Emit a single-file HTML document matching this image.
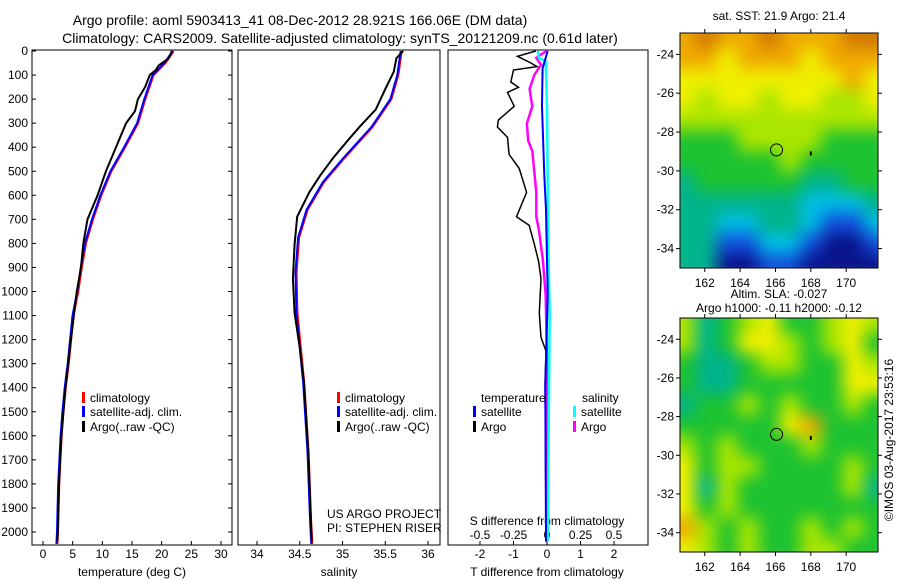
<!DOCTYPE html>
<html><head><meta charset="utf-8">
<style>
html,body{margin:0;padding:0;background:#fff;}
#wrap{position:relative;width:900px;height:580px;overflow:hidden;font-family:"Liberation Sans",sans-serif;}
svg{position:absolute;left:0;top:0;}
canvas{position:absolute;}
</style></head>
<body>
<div id="wrap">
<canvas id="sstmap" width="198" height="235" style="left:680px;top:33px;"></canvas>
<canvas id="slamap" width="198" height="234" style="left:680px;top:318px;"></canvas>
<svg id="fig" width="900" height="580" xmlns="http://www.w3.org/2000/svg" font-family="Liberation Sans, sans-serif"></svg>
</div>
<script>
// ---------- data ----------
const climDepth = [0,50,100,200,300,400,500,600,700,800,900,1000,1100,1200,1300,1400,1500,1600,1700,1800,1900,2000,2050];
const climTemp  = [22,20.6,18.6,17.2,16.0,13.8,11.5,9.8,8.4,7.2,6.5,5.9,5.1,4.7,4.3,3.8,3.4,3.1,2.9,2.7,2.6,2.5,2.4];
const argoDepth = [0,30,60,80,100,150,200,250,300,400,500,600,700,800,900,1000,1200,1400,1600,1800,2000,2040];
const argoTemp  = [21.7,21.2,19.5,19,18,17.2,16,15.5,14,12.3,10.6,9.2,7.5,6.8,6.4,5.7,4.7,3.8,3.1,2.7,2.5,2.4];
const salDepth  = [0,100,200,315,445,545,660,775,920,1090,1235,1380,1665,1955,2050];
const salClim   = [35.69,35.65,35.57,35.35,35.02,34.78,34.59,34.49,34.46,34.47,34.51,34.55,34.60,34.63,34.645];
const salArgoDepth = [0,30,86,158,243,315,373,445,517,588,689,803,947,1090,1235,1380,1665,1955,2040];
const salArgo   = [35.71,35.63,35.6,35.5,35.39,35.2,35.06,34.89,34.74,34.61,34.47,34.44,34.42,34.44,34.5,34.55,34.6,34.63,34.64];
const tdDepth   = [0,22,50,65,79,129,151,172,230,287,316,359,430,488,588,689,725,803,875,947,1090,1191,1248,1377,1521,2009,2040];
const tdArgo    = [-0.33,-0.88,-0.48,-0.3,-1.0,-1.08,-0.85,-1.18,-0.98,-1.45,-1.48,-1.18,-1.13,-0.83,-0.61,-0.91,-0.53,-0.38,-0.25,-0.18,-0.23,-0.18,-0.03,-0.06,-0.05,-0.03,-0.03];
const sdDepth   = [0,14,29,57,100,158,230,301,373,416,588,689,746,875,1018,1300,2040];
const sdArgo    = [0,-0.045,-0.08,-0.045,-0.095,-0.13,-0.11,-0.15,-0.14,-0.11,-0.08,-0.08,-0.06,-0.03,-0.01,0,0];
const tsDepth   = [0,72,230,517,660,1018,1400,2040];
const tdSat     = [0.02,-0.13,-0.15,-0.08,-0.03,0.02,-0.05,-0.03];
const ssDepth   = [0,29,43,230,803,1090,2040];
const sdSat     = [-0.07,-0.06,-0.01,0,0.01,0.02,0.005];
const depthTicks = [0,100,200,300,400,500,600,700,800,900,1000,1100,1200,1300,1400,1500,1600,1700,1800,1900,2000];
const tempTicks = [0,5,10,15,20,25,30];
const salTicks = [34,34.5,35,35.5,36];
const tdTicks = [-2,-1,0,1,2];
const sdTicks = [-0.5,-0.25,0,0.25,0.5];
const lonTicks = [162,164,166,168,170];
const latTicks = [-24,-26,-28,-30,-32,-34];
const sstGrid = [
[7,8,7,7,8,7,7,7,8,8],[7,7,6,7,7,7,6,7,7,7],[6,6,6,6,6,6,6,6,7,6],[6,5,6,6,5,6,6,5,5,6],
[5,5,5,5,5,5,5,5,5,5],[4,4,4,5,5,5,5,4,4,4],[4,4,4,4,4,5,4,4,4,4],[3,4,4,4,4,4,3,3,4,4],
[3,3,3,3,3,3,2,2,2,3],[3,3,2,2,3,3,2,1,1,2],[3,3,1,1,2,2,1,0,0,1],[3,3,0,0,1,1,0,0,0,0]];
const slaGrid = [
[5,3,4,5,6,4,4,5,6,5],[5,3,4,6,6,5,4,5,6,4],[4,3,3,4,5,5,4,4,6,5],[4,3,3,4,4,4,4,4,6,6],
[3,4,4,5,4,5,4,4,5,4],[4,4,4,4,4,6,7,4,4,4],[5,4,5,4,4,4,5,4,4,4],[6,4,5,5,4,4,4,4,5,4],
[6,3,5,4,4,4,4,4,5,3],[6,4,5,4,4,4,4,4,4,4],[7,5,4,5,4,4,5,4,5,4],[6,5,4,5,4,4,5,5,4,4]];
const palette = [[10,20,140],[20,80,220],[0,190,230],[0,180,140],[30,195,50],[170,230,0],[240,240,0],[240,170,0],[210,120,0]];

// ---------- helpers ----------
const NS="http://www.w3.org/2000/svg";
const svg=document.getElementById('fig');
function mk(tag,attrs,parent){const e=document.createElementNS(NS,tag);for(const k in attrs)e.setAttribute(k,attrs[k]);(parent||svg).appendChild(e);return e;}
function txt(x,y,s,anchor,size,parent,rot){const t=mk('text',{x:x,y:y,'font-size':size||12,'text-anchor':anchor||'middle',fill:'#000'},parent);if(rot)t.setAttribute('transform',rot);t.textContent=s;return t;}
const yTop=51, yPer=(532-51)/2000;
function yD(d){return yTop+d*yPer;}
function lin(v0,p0,v1,p1){return v=>p0+(v-v0)*(p1-p0)/(v1-v0);}
const xT=lin(0,43,30,221), xS=lin(34,257,36,428), xTD=lin(0,547,1,580.5), xSD=lin(0,547,0.25,580.5);
function line(xs,ds,xf,color,w,name){
  let d='';for(let i=0;i<xs.length;i++){d+=(i?'L':'M')+xf(xs[i]).toFixed(1)+','+yD(ds[i]).toFixed(1);}
  const p=mk('path',{d:d,fill:'none',stroke:color,'stroke-width':w,'stroke-linejoin':'miter'});
  
  
  return p;
}
function box(x0,x1,name){const r=mk('rect',{x:x0,y:50,width:x1-x0,height:495,fill:'none',stroke:'#000','stroke-width':1});
  }

let t=txt(300,25,'Argo profile: aoml 5903413_41 08-Dec-2012 28.921S 166.06E (DM data)','middle',14);

t=txt(340,43,'Climatology: CARS2009. Satellite-adjusted climatology: synTS_20121209.nc (0.61d later)','middle',14);


box(32,232,'temperature-panel');box(238,440,'salinity-panel');box(448,648,'difference-panel');

for(const d of depthTicks){
  const y=yD(d);
  const l=txt(28,y+4,String(d),'end',12);
  
  mk('line',{x1:32,x2:36,y1:y,y2:y,stroke:'#000'});mk('line',{x1:228,x2:232,y1:y,y2:y,stroke:'#000'});
}
function xticks(ticks,xf,y,tickY){for(const v of ticks){const x=xf(v);
  const l=txt(x,y,String(v),'middle',12);
  if(tickY)mk('line',{x1:x,x2:x,y1:545,y2:541,stroke:'#000'});}}
xticks(tempTicks,xT,558,true);xticks(salTicks,xS,558,true);xticks(tdTicks,xTD,558,true);
xticks(sdTicks,xSD,539,false);
t=txt(132,576,'temperature (deg C)','middle',12);
t=txt(339,576,'salinity','middle',12);
t=txt(547,576,'T difference from climatology','middle',12);
t=txt(547,525,'S difference from climatology','middle',12);

line(climTemp,climDepth,xT,'#f00',2.5,'temp-climatology-line');
line(climTemp,climDepth,v=>xT(v)-0.8,'#00f',2,'temp-satellite-line');
line(argoTemp,argoDepth,xT,'#000',2,'temp-argo-line');
line(salClim,salDepth,xS,'#f00',2.5,'sal-climatology-line');
line(salClim,salDepth,v=>xS(v)-0.8,'#00f',2,'sal-satellite-line');
line(salArgo,salArgoDepth,xS,'#000',2,'sal-argo-line');
line(tdArgo,tdDepth,xTD,'#000',1.5,'tdiff-argo-line');
line(sdArgo,sdDepth,xSD,'#f0f',2.5,'sdiff-argo-line');
line(sdSat,ssDepth,xSD,'#0ff',2.5,'sdiff-satellite-line');
line(tdSat,tsDepth,xTD,'#00f',2,'tdiff-satellite-line');

function leg(x,y,color,label,name){mk('rect',{x:x,y:y-10,width:3,height:11,fill:color});
  const l=txt(x+8,y,label,'start',12);}
leg(82,402,'#f00','climatology','legend-climatology');leg(82,416,'#00f','satellite-adj. clim.','legend-satellite');leg(82,431,'#000','Argo(..raw -QC)','legend-argo');
leg(337,402,'#f00','climatology','legend2-climatology');leg(337,416,'#00f','satellite-adj. clim.','legend2-satellite');leg(337,431,'#000','Argo(..raw -QC)','legend2-argo');
t=txt(481,402,'temperature','start',12);
t=txt(582,402,'salinity','start',12);
leg(473,416,'#00f','satellite','legend-t-satellite');leg(473,431,'#000','Argo','legend-t-argo');
leg(573,416,'#0ff','satellite','legend-s-satellite');leg(573,431,'#f0f','Argo','legend-s-argo');
t=txt(327,518,'US ARGO PROJECT','start',12);
t=txt(327,532,'PI: STEPHEN RISER','start',12);

const lonMin=160.6, lonMax=171.8, latTop=-22.9, latBot=-35.0;
function drawMap(id,grid,x0,y0,w,h,title1,title2,nm){
  const c=document.getElementById(id),ctx=c.getContext('2d');
  const small=document.createElement('canvas');small.width=grid[0].length;small.height=grid.length;
  const sc=small.getContext('2d');
  for(let r=0;r<grid.length;r++)for(let q=0;q<grid[r].length;q++){const p=palette[grid[r][q]];sc.fillStyle='rgb('+p.join(',')+')';sc.fillRect(q,r,1,1);}
  ctx.imageSmoothingEnabled=true;ctx.filter='blur(4px)';ctx.drawImage(small,-6,-6,w+12,h+12);ctx.filter='none';
  const lx=lin(lonMin,x0,lonMax,x0+w), ly=lin(latTop,y0,latBot,y0+h);
  const f=mk('rect',{x:x0,y:y0,width:w,height:h,fill:'none',stroke:'#000'});
  
  for(const v of lonTicks){const x=lx(v);mk('line',{x1:x,x2:x,y1:y0,y2:y0-4,stroke:'#000'});mk('line',{x1:x,x2:x,y1:y0+h,y2:y0+h+4,stroke:'#000'});
    const l=txt(x,y0+h+19,String(v),'middle',12);}
  for(const v of latTicks){const y=ly(v);mk('line',{x1:x0,x2:x0-4,y1:y,y2:y,stroke:'#000'});mk('line',{x1:x0+w,x2:x0+w+4,y1:y,y2:y,stroke:'#000'});
    const l=txt(x0-6,y+4,String(v),'end',12);}
  const cc=mk('circle',{cx:lx(166.06),cy:ly(-28.92),r:6,fill:'none',stroke:'#000'});
  
  mk('rect',{x:lx(168)-1,y:ly(-29.1)-2,width:2,height:4,fill:'#000'});
  if(title1){const a=txt(x0+w/2,y0-(title2?20:13),title1,'middle',12);}
  if(title2){const b=txt(x0+w/2,y0-6,title2,'middle',12);}
}
drawMap('sstmap',sstGrid,680,33,198,235,'sat. SST: 21.9 Argo: 21.4',null,'sst-map');
drawMap('slamap',slaGrid,680,318,198,234,'Altim. SLA: -0.027','Argo h1000: -0.11 h2000: -0.12','sla-map');
t=txt(893,440,'\u00A9IMOS 03-Aug-2017 23:53:16','middle',12,null,'rotate(-90 893 440)');

</script>
</body></html>
